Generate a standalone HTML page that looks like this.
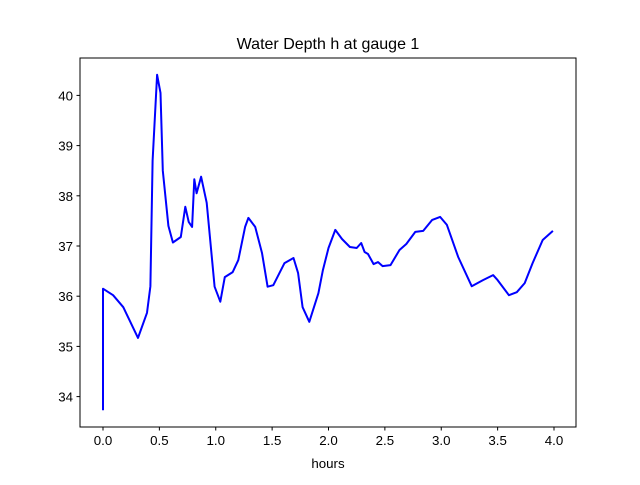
<!DOCTYPE html>
<html><head><meta charset="utf-8"><style>
body{margin:0;background:#fff}
svg text{font-family:"Liberation Sans","DejaVu Sans",sans-serif;fill:#000}
</style></head><body>
<svg id="chart" width="640" height="480" xmlns="http://www.w3.org/2000/svg">
<rect width="640" height="480" fill="#fff"/>
<text x="328" y="49" font-size="16" text-anchor="middle">Water Depth h at gauge 1</text>
<text x="328" y="468" font-size="13.3" text-anchor="middle">hours</text>
<g id="ticks"></g>
<path id="series" fill="none" stroke="#0000ff" stroke-width="2" stroke-linejoin="round"/>
<rect x="80" y="58" width="496" height="369" fill="none" stroke="#000" stroke-width="1"/>
</svg>
<script>
const hours=[0,0,0.09,0.18,0.31,0.39,0.42,0.44,0.48,0.51,0.53,0.58,0.62,0.69,0.73,0.76,0.79,0.81,0.83,0.87,0.92,0.99,1.04,1.08,1.15,1.2,1.26,1.29,1.35,1.41,1.46,1.51,1.61,1.69,1.73,1.77,1.83,1.91,1.95,2.0,2.06,2.12,2.19,2.25,2.29,2.32,2.35,2.4,2.44,2.48,2.55,2.63,2.69,2.77,2.84,2.92,2.99,3.05,3.15,3.27,3.37,3.46,3.5,3.6,3.67,3.74,3.81,3.9,3.99];
const depth=[33.73,36.15,36.02,35.78,35.17,35.67,36.2,38.7,40.41,40.05,38.5,37.4,37.07,37.18,37.78,37.48,37.38,38.33,38.05,38.38,37.86,36.19,35.89,36.38,36.48,36.72,37.38,37.56,37.38,36.86,36.19,36.22,36.66,36.76,36.46,35.78,35.49,36.06,36.52,36.96,37.32,37.14,36.98,36.96,37.06,36.88,36.84,36.64,36.68,36.6,36.62,36.92,37.04,37.28,37.3,37.52,37.58,37.42,36.78,36.2,36.32,36.42,36.32,36.02,36.08,36.26,36.66,37.12,37.3];
const xTicks=["0.0","0.5","1.0","1.5","2.0","2.5","3.0","3.5","4.0"];
const yTicks=["34","35","36","37","38","39","40"];
const xs=v=>103+v*112.75;
const ys=v=>246-(v-37)*50.2;
const NS="http://www.w3.org/2000/svg";
const g=document.getElementById('ticks');
xTicks.forEach(t=>{const x=xs(parseFloat(t));
 const l=document.createElementNS(NS,'line');l.setAttribute('x1',x);l.setAttribute('x2',x);l.setAttribute('y1',427);l.setAttribute('y2',430.5);l.setAttribute('stroke','#000');
 
 g.appendChild(l);
 const tx=document.createElementNS(NS,'text');tx.setAttribute('x',x);tx.setAttribute('y',445);tx.setAttribute('font-size','13.3');tx.setAttribute('text-anchor','middle');tx.textContent=t;
 
 g.appendChild(tx);});
yTicks.forEach(t=>{const y=ys(parseFloat(t));
 const l=document.createElementNS(NS,'line');l.setAttribute('x1',76.5);l.setAttribute('x2',80);l.setAttribute('y1',y);l.setAttribute('y2',y);l.setAttribute('stroke','#000');
 
 g.appendChild(l);
 const tx=document.createElementNS(NS,'text');tx.setAttribute('x',73);tx.setAttribute('y',y+5);tx.setAttribute('font-size','13.3');tx.setAttribute('text-anchor','end');tx.textContent=t;
 
 g.appendChild(tx);});
document.getElementById('series').setAttribute('d',hours.map((h,i)=>(i?'L':'M')+xs(h).toFixed(1)+','+ys(depth[i]).toFixed(1)).join(''));
</script>
</body></html>
